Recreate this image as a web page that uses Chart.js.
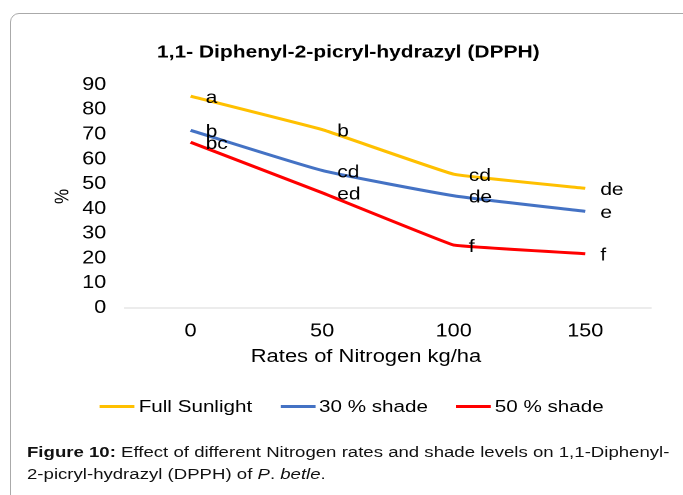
<!DOCTYPE html>
<html><head><meta charset="utf-8">
<script src="https://cdn.jsdelivr.net/npm/chart.js@4"></script>
<style>
html,body{margin:0;padding:0;background:#fff;width:683px;height:495px;overflow:hidden;}
#frame{position:absolute;left:10px;top:13px;width:700px;height:520px;border:1.5px solid #aaa;border-radius:9px;box-sizing:border-box;}
#stage{position:absolute;left:0;top:0;width:569.17px;height:495px;transform:scale(1.2,1);transform-origin:0 0;font-family:'Liberation Sans',Arial,sans-serif;color:#000;}
#chartBox{position:absolute;left:0;top:0;width:569px;height:380px;}
#xTitle{position:absolute;left:0;width:610px;top:345px;text-align:center;font-size:18.3px;line-height:22px;white-space:nowrap;}
#legend{position:absolute;left:83.3px;top:396px;display:flex;align-items:center;font-size:17.2px;line-height:20px;white-space:nowrap;}
.item{display:flex;align-items:center;margin-right:23.4px;}
.swatch{width:29px;height:3px;margin-right:3.3px;}
#caption{position:absolute;left:22.5px;top:441px;font-size:15.5px;line-height:22px;white-space:nowrap;color:#111;}
</style>
</head><body>
<div id="frame"></div>
<div id="stage">
  <div id="chartBox"><canvas id="c"></canvas></div>
  <div id="xTitle">Rates of Nitrogen kg/ha</div>
  <div id="legend"></div>
  <div id="caption"><b>Figure 10:</b> Effect of different Nitrogen rates and shade levels on 1,1-Diphenyl-<br>2-picryl-hydrazyl (DPPH) of <i>P</i>. <i>betle</i>.</div>
</div>
<script>
const nitrogenRates = ['0', '50', '100', '150'];
const fullSunlight = [85.5, 72, 54, 48.3];
const shade30 = [71.7, 55.5, 45.3, 39];
const shade50 = [66.9, 46.5, 25.4, 21.9];
const fullLetters = ['a', 'b', 'cd', 'de'];
const shade30Letters = ['b', 'cd', 'de', 'e'];
const shade50Letters = ['bc', 'ed', 'f', 'f'];
const seriesNames = ['Full Sunlight', '30 % shade', '50 % shade'];
const seriesColors = ['#FFC000', '#4472C4', '#FF0000'];
const seriesTension = [0.08, 0.15, 0.05];
const yMin = 0, yMax = 90, yStep = 10;

const FONT = "'Liberation Sans', Arial, sans-serif";

const letterPlugin = {
  id: 'letters',
  afterDatasetsDraw(chart) {
    const ctx = chart.ctx;
    ctx.save();
    ctx.font = '17.5px ' + FONT;
    ctx.fillStyle = '#000';
    ctx.textAlign = 'left';
    ctx.textBaseline = 'middle';
    chart.data.datasets.forEach((ds, i) => {
      const meta = chart.getDatasetMeta(i);
      meta.data.forEach((pt, j) => {
        ctx.fillText(ds.letters[j], pt.x + 12.5, pt.y + 2);
      });
    });
    ctx.restore();
  }
};

const values = [fullSunlight, shade30, shade50];
const letters = [fullLetters, shade30Letters, shade50Letters];
const datasets = values.map((v, i) => ({
  label: seriesNames[i],
  data: v,
  letters: letters[i],
  borderColor: seriesColors[i],
  backgroundColor: seriesColors[i],
  borderWidth: 3,
  pointRadius: 0,
  tension: seriesTension[i],
  fill: false
}));

new Chart(document.getElementById('c'), {
  type: 'line',
  data: { labels: nitrogenRates, datasets },
  options: {
    responsive: true,
    maintainAspectRatio: false,
    devicePixelRatio: 2,
    animation: false,
    layout: { padding: { left: 38, right: 26.5, top: 0, bottom: 0 } },
    plugins: {
      legend: { display: false },
      tooltip: { enabled: false },
      title: {
        display: true,
        text: '1,1- Diphenyl-2-picryl-hydrazyl (DPPH)',
        color: '#000',
        font: { family: FONT, size: 17.5, weight: 'bold' },
        padding: { top: 42, bottom: 22 }
      }
    },
    scales: {
      x: {
        type: 'category',
        offset: true,
        grid: { display: true, drawOnChartArea: false, drawTicks: false },
        border: { display: true, color: '#d9d9d9', width: 1 },
        ticks: { color: '#000', font: { family: FONT, size: 18 }, padding: 12.5, maxRotation: 0 },
        title: { display: false },
        afterFit(scale) { scale.height = 72; }
      },
      y: {
        min: yMin, max: yMax,
        grid: { display: false, drawTicks: false },
        border: { display: false },
        ticks: { stepSize: yStep, color: '#000', font: { family: FONT, size: 18 }, padding: 15.5 },
        title: { display: true, text: '%', color: '#000', font: { family: FONT, size: 17 }, padding: { top: 4, bottom: 0 } },
        afterFit(scale) { scale.width = 66; }
      }
    }
  },
  plugins: [letterPlugin]
});

const legend = document.getElementById('legend');
seriesNames.forEach((name, i) => {
  const item = document.createElement('div');
  item.className = 'item';
  const sw = document.createElement('span');
  sw.className = 'swatch';
  sw.style.background = seriesColors[i];
  const tx = document.createElement('span');
  tx.textContent = name;
  item.appendChild(sw); item.appendChild(tx);
  legend.appendChild(item);
});
</script>
</body></html>
